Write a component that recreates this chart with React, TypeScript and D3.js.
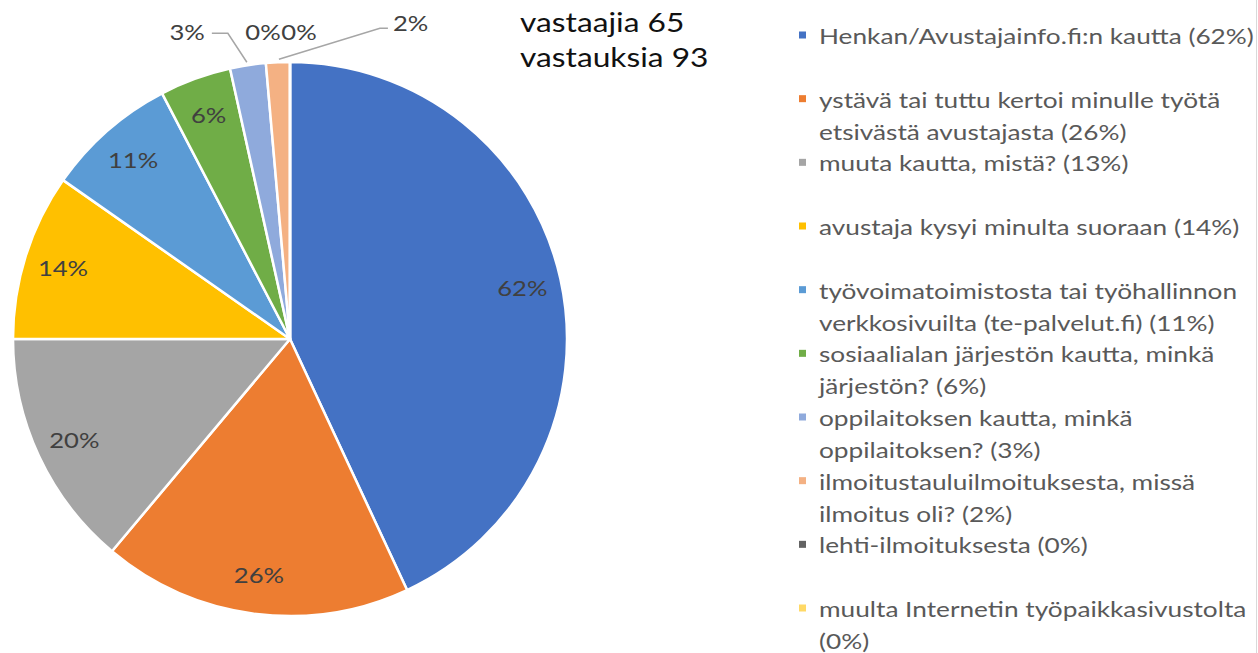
import React, { useEffect, useRef } from "react";
import * as d3 from "d3";

// ---- data ----
const categories: string[] = [
  "Henkan/Avustajainfo.fi:n kautta (62%)",
  "ystävä tai tuttu kertoi minulle työtä etsivästä avustajasta (26%)",
  "muuta kautta, mistä? (13%)",
  "avustaja kysyi minulta suoraan (14%)",
  "työvoimatoimistosta tai työhallinnon verkkosivuilta (te-palvelut.fi) (11%)",
  "sosiaalialan järjestön kautta, minkä järjestön? (6%)",
  "oppilaitoksen kautta, minkä oppilaitoksen? (3%)",
  "ilmoitustauluilmoituksesta, missä ilmoitus oli? (2%)",
  "lehti-ilmoituksesta (0%)",
  "muulta Internetin työpaikkasivustolta (0%)",
];
// legend text as wrapped in the original
const legendLines: string[][] = [
  ["Henkan/Avustajainfo.fi:n kautta (62%)"],
  ["ystävä tai tuttu kertoi minulle työtä", "etsivästä avustajasta (26%)"],
  ["muuta kautta, mistä? (13%)"],
  ["avustaja kysyi minulta suoraan (14%)"],
  ["työvoimatoimistosta tai työhallinnon", "verkkosivuilta (te-palvelut.fi) (11%)"],
  ["sosiaalialan järjestön kautta, minkä", "järjestön? (6%)"],
  ["oppilaitoksen kautta, minkä", "oppilaitoksen? (3%)"],
  ["ilmoitustauluilmoituksesta, missä", "ilmoitus oli? (2%)"],
  ["lehti-ilmoituksesta (0%)"],
  ["muulta Internetin työpaikkasivustolta", "(0%)"],
];
const sliceValues: number[] = [62, 26, 20, 14, 11, 6, 3, 2, 0, 0];
const sliceLabels: string[] = ["62%", "26%", "20%", "14%", "11%", "6%", "3%", "2%", "0%", "0%"];
const colors: string[] = [
  "#4472C4", "#ED7D31", "#A5A5A5", "#FFC000", "#5B9BD5",
  "#70AD47", "#8FAADC", "#F4B183", "#636363", "#FFD966",
];
const infoLines: string[] = ["vastaajia 65", "vastauksia 93"];

// ---- layout ----
const W = 1258, H = 653;
const CX = 290, CY = 339, R = 277;
const LABEL_R = 238;
const FONT = "Lato, 'Open Sans', sans-serif";
const SX = 1.22; // horizontal stretch of the original's text
// outside label layout (offsets from the slice's rim point)
const outsideLayout: Record<number, { dx: number; dy: number; elbow?: [number, number]; end?: number; anchor: string }> = {
  6: { dx: -43, dy: -33, elbow: [-20, -32], end: -36, anchor: "end" },
  7: { dx: 115, dy: -39, elbow: [102, -34], end: 110, anchor: "start" },
  8: { dx: -27, dy: -30, anchor: "middle" },
  9: { dx: 9, dy: -30, anchor: "middle" },
};

export default function App() {
  const ref = useRef<SVGSVGElement>(null);

  useEffect(() => {
    const svg = d3.select(ref.current);
    svg.selectAll("*").remove();

    const pie = d3.pie<number>().sort(null).value((d) => d).startAngle(0).endAngle(2 * Math.PI);
    const arcs = pie(sliceValues);
    const arc = d3.arc<d3.PieArcDatum<number>>().innerRadius(0).outerRadius(R);
    const labelArc = d3.arc<d3.PieArcDatum<number>>().innerRadius(LABEL_R).outerRadius(LABEL_R);

    const put = (sel: d3.Selection<SVGTextElement, unknown, null, undefined>, x: number, y: number) =>
      sel.attr("transform", `translate(${x},${y}) scale(${SX},1)`);

    const g = svg.append("g").attr("transform", `translate(${CX},${CY})`);
    g.selectAll("path.slice")
      .data(arcs)
      .join("path")
      .attr("class", "slice")
      .attr("d", arc as any)
      .attr("fill", (_, i) => colors[i])
      .attr("stroke", "#fff")
      .attr("stroke-width", 2.5)
      .attr("stroke-linejoin", "round");

    arcs.forEach((a, i) => {
      const mid = (a.startAngle + a.endAngle) / 2;
      const lay = outsideLayout[i];
      if (!lay) {
        const [x, y] = labelArc.centroid(a);
        const t = g.append("text")
          .attr("text-anchor", "middle")
          .attr("dominant-baseline", "central")
          .attr("font-family", FONT)
          .attr("font-size", 21)
          .attr("fill", "#404040")
          .text(sliceLabels[i]);
        put(t as any, x, y);
      } else {
        const rx = R * Math.sin(mid);
        const ry = -R * Math.cos(mid);
        if (lay.elbow) {
          const ex = rx + lay.elbow[0], ey = ry + lay.elbow[1];
          const endx = rx + (lay.end as number);
          g.append("path")
            .attr("d", d3.line()([[rx + Math.sign(lay.elbow[0]) * 1, ry - 3], [ex, ey], [endx, ey]]) as string)
            .attr("fill", "none")
            .attr("stroke", "#A6A6A6")
            .attr("stroke-width", 1.5);
        }
        const t = g.append("text")
          .attr("text-anchor", lay.anchor)
          .attr("dominant-baseline", "central")
          .attr("font-family", FONT)
          .attr("font-size", 21)
          .attr("fill", "#404040")
          .text(sliceLabels[i]);
        put(t as any, rx + lay.dx, ry + lay.dy);
      }
    });

    // info text
    infoLines.forEach((line, i) => {
      const t = svg.append("text")
        .attr("dominant-baseline", "central")
        .attr("font-family", FONT)
        .attr("font-size", 26)
        .attr("fill", "#111")
        .text(line);
      put(t as any, 520, 22 + i * 35);
    });

    // legend
    const ly = d3.scalePoint<number>().domain(d3.range(categories.length)).range([35, 608]);
    const lg = svg.append("g");
    categories.forEach((c, i) => {
      const y0 = ly(i) as number;
      lg.append("rect")
        .attr("x", 799)
        .attr("y", y0 - 3.5)
        .attr("width", 7)
        .attr("height", 7)
        .attr("fill", colors[i]);
      const t = lg.append("text")
        .attr("font-family", FONT)
        .attr("font-size", 21.5)
        .attr("fill", "#595959")
        .attr("dominant-baseline", "central");
      legendLines[i].forEach((line, j) => {
        t.append("tspan").attr("x", 0).attr("y", j * 32).text(line);
      });
      t.append("title").text(c);
      put(t as any, 819, y0);
    });

    svg.append("line")
      .attr("x1", W - 1.5).attr("x2", W - 1.5)
      .attr("y1", 0).attr("y2", H)
      .attr("stroke", "#D9D9D9").attr("stroke-width", 1);
  }, []);

  return (
    <svg
      ref={ref}
      width={W}
      height={H}
      style={{ position: "absolute", left: 0, top: 0, background: "#fff" }}
    />
  );
}
